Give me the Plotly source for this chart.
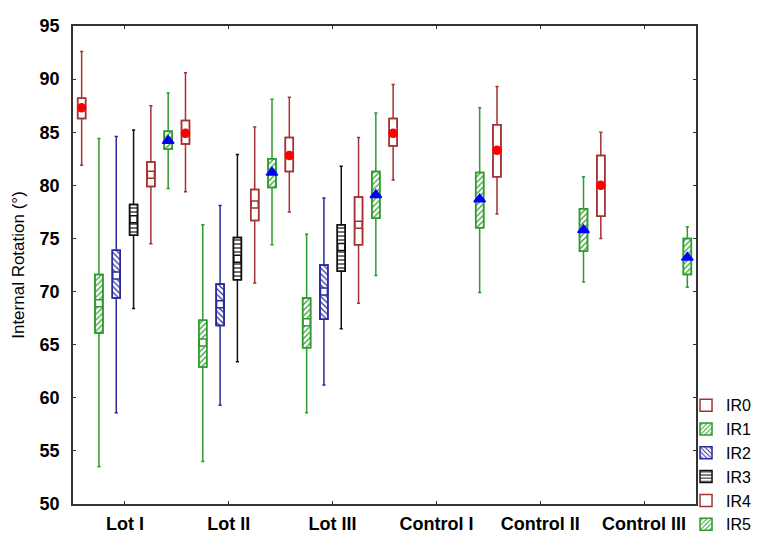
import plotly.graph_objects as go

categories = ["Lot I", "Lot II", "Lot III", "Control I", "Control II", "Control III"]
lots = categories[:3]

series_names = ["IR0", "IR1", "IR2", "IR3", "IR4", "IR5"]

# whisker low, q1, median, q3, whisker high
ir0_low = [81.9, 79.4, 77.5, 80.5, 77.3, 75.0]
ir0_q1 = [86.3, 83.9, 81.3, 83.7, 80.8, 77.1]
ir0_med = [87.3, 84.9, 82.8, 84.9, 83.3, 80.0]
ir0_q3 = [88.2, 86.1, 84.5, 86.3, 85.7, 82.8]
ir0_high = [92.6, 90.6, 88.3, 89.5, 89.3, 85.0]

ir1_low = [53.5, 54.0, 58.6]
ir1_q1 = [66.1, 62.9, 64.7]
ir1_med = [68.9, 65.2, 67.1]
ir1_q3 = [71.6, 67.3, 69.4]
ir1_high = [84.4, 76.3, 75.4]

ir2_low = [58.6, 59.3, 61.2]
ir2_q1 = [69.4, 66.8, 67.4]
ir2_med = [71.5, 68.8, 70.0]
ir2_q3 = [73.9, 70.7, 72.5]
ir2_high = [84.6, 78.1, 78.8]

ir3_low = [68.4, 63.4, 66.5]
ir3_q1 = [75.3, 71.1, 71.9]
ir3_med = [76.8, 73.1, 74.2]
ir3_q3 = [78.2, 75.1, 76.3]
ir3_high = [85.2, 82.9, 81.8]

ir4_low = [74.5, 70.8, 68.9]
ir4_q1 = [79.9, 76.7, 74.4]
ir4_med = [81.0, 78.2, 76.3]
ir4_q3 = [82.2, 79.6, 78.9]
ir4_high = [87.5, 85.5, 84.5]

ir5_low = [79.7, 74.4, 71.5, 69.9, 70.9, 70.4]
ir5_q1 = [83.4, 79.8, 76.9, 76.0, 73.8, 71.6]
ir5_med = [84.2, 81.2, 79.1, 78.7, 75.8, 73.2]
ir5_q3 = [85.1, 82.5, 81.3, 81.2, 77.8, 75.0]
ir5_high = [88.7, 88.1, 86.8, 87.3, 80.8, 76.1]

y_ticks = [50, 55, 60, 65, 70, 75, 80, 85, 90, 95]

RED = "#a33232"
GREEN = "#2f9a2f"
BLUE = "#2a2a9c"
BLACK = "#111111"

series = [
    dict(name="IR0", x=categories, low=ir0_low, q1=ir0_q1, med=ir0_med, q3=ir0_q3, high=ir0_high,
         line=RED, pattern="", sym="circle", msize=8, mfill="#ff0000", mline="#ff0000"),
    dict(name="IR1", x=lots, low=ir1_low, q1=ir1_q1, med=ir1_med, q3=ir1_q3, high=ir1_high,
         line=GREEN, pattern="/", sym="square", msize=7, mfill="white", mline=GREEN),
    dict(name="IR2", x=lots, low=ir2_low, q1=ir2_q1, med=ir2_med, q3=ir2_q3, high=ir2_high,
         line=BLUE, pattern="\\", sym="square", msize=7, mfill="white", mline=BLUE),
    dict(name="IR3", x=lots, low=ir3_low, q1=ir3_q1, med=ir3_med, q3=ir3_q3, high=ir3_high,
         line=BLACK, pattern="-", sym="square", msize=7, mfill="white", mline=BLACK),
    dict(name="IR4", x=lots, low=ir4_low, q1=ir4_q1, med=ir4_med, q3=ir4_q3, high=ir4_high,
         line=RED, pattern="", sym="square", msize=7, mfill="white", mline=RED),
    dict(name="IR5", x=categories, low=ir5_low, q1=ir5_q1, med=ir5_med, q3=ir5_q3, high=ir5_high,
         line=GREEN, pattern="/", sym="triangle-up", msize=10, mfill="#0000ff", mline="#0000ff"),
]

fig = go.Figure()

GAP = 0.54

# hatched box bodies (bars from q1 to q3)
for s in series:
    heights = [b - a for a, b in zip(s["q1"], s["q3"])]
    fig.add_trace(go.Bar(
        x=s["x"], y=heights, base=s["q1"], name=s["name"],
        offsetgroup=s["name"], showlegend=True,
        marker=dict(color="white", line=dict(color=s["line"], width=1.5),
                    pattern=dict(shape=s["pattern"], fgcolor=s["line"], bgcolor="white",
                                 size=4, solidity=0.3, fillmode="replace")),
        hoverinfo="skip",
    ))

# box outlines and whiskers
for s in series:
    fig.add_trace(go.Box(
        x=s["x"], q1=s["q1"], median=s["med"], q3=s["q3"],
        lowerfence=s["low"], upperfence=s["high"],
        name=s["name"], offsetgroup=s["name"], showlegend=False,
        line=dict(color=s["line"], width=1.5), fillcolor="rgba(0,0,0,0)",
        whiskerwidth=0.4, boxpoints=False,
    ))

# median markers
for s in series:
    fig.add_trace(go.Scatter(
        x=s["x"], y=s["med"], mode="markers", name=s["name"],
        offsetgroup=s["name"], showlegend=False,
        marker=dict(symbol=s["sym"], size=s["msize"], color=s["mfill"],
                    line=dict(color=s["mline"], width=1.5)),
        hoverinfo="skip",
    ))

fig.update_layout(
    width=762, height=541,
    margin=dict(l=73, r=66, t=26, b=37, autoexpand=False),
    paper_bgcolor="white", plot_bgcolor="white",
    barmode="group", bargap=0, bargroupgap=GAP,
    boxmode="group", boxgap=0, boxgroupgap=GAP,
    scattermode="group", scattergap=0,
    font=dict(family="Liberation Sans, Arial, sans-serif", color="black", size=16),
    legend=dict(x=0.984, y=0.242, xanchor="left", yanchor="top",
                font=dict(size=16), itemwidth=30,
                bgcolor="rgba(0,0,0,0)", borderwidth=0),
    showlegend=True,
)

fig.update_xaxes(
    type="category", categoryorder="array", categoryarray=categories,
    range=[-0.5, 5.5], showline=True, linecolor="#333333", linewidth=1.5, mirror="ticks",
    ticks="inside", ticklen=3, tickcolor="#333333", showgrid=False,
    tickfont=dict(size=18, family="Liberation Sans, Arial, sans-serif", weight="bold"),
    ticklabelstandoff=3,
)
fig.update_yaxes(
    range=[50, 95], tickvals=y_ticks, showline=True, linecolor="#333333", linewidth=1.5,
    mirror="ticks", ticks="inside", ticklen=3, tickcolor="#333333", showgrid=False, zeroline=False,
    tickfont=dict(size=18, family="Liberation Sans, Arial, sans-serif", weight="bold"),
    ticklabelstandoff=8,
    title=dict(text="Internal Rotation (°)", font=dict(size=17), standoff=11),
)

fig.write_html("out.html", config={"displayModeBar": False},
               post_script="document.body.style.margin='0px';")
